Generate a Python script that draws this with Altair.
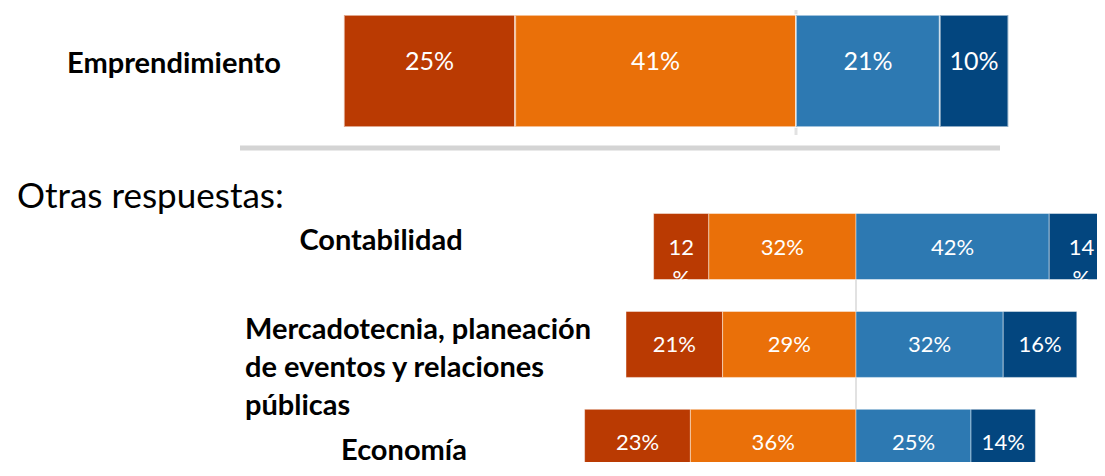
import altair as alt
import pandas as pd

FONT = "Lato"

categories = ["Totalmente en desacuerdo", "En desacuerdo", "De acuerdo", "Totalmente de acuerdo"]
palette = ["#BA3A02", "#EA7009", "#2D79B2", "#03467F"]

top_rows = ["Emprendimiento"]
top_values = [[25, 41, 21, 10]]
top_text = [["25%", "41%", "21%", "10%"]]

other_title = ["Otras respuestas:"]
other_rows = ["Contabilidad",
              "Mercadotecnia, planeación\nde eventos y relaciones\npúblicas",
              "Economía"]
other_values = [[12, 32, 42, 14], [21, 29, 32, 16], [23, 36, 25, 14]]
other_text = [["12\n%", "32%", "42%", "14\n%"],
              ["21%", "29%", "32%", "16%"],
              ["23%", "36%", "25%", "14%"]]


def build(rows, values, texts):
    recs = []
    for r, v, t in zip(rows, values, texts):
        spans = [(-(v[0] + v[1]), -v[1]), (-v[1], 0), (0, v[2]), (v[2], v[2] + v[3])]
        for c, (s, e), lab in zip(categories, spans, t):
            recs.append(dict(row=r, cat=c, start=s, end=e, mid=(s + e) / 2, label=lab))
    return pd.DataFrame(recs)


top_df = build(top_rows, top_values, top_text)
oth_df = build(other_rows, other_values, other_text)

W = 1089
HA = 144
HB = 306

color = alt.Color("cat:N", scale=alt.Scale(domain=categories, range=palette), legend=None)

# ---------- top panel ----------
xA = alt.Scale(domain=[-(796 - 8) / 6.85, (1097 - 796) / 6.85], nice=False, zero=False)
yA = alt.Scale(domain=top_rows, paddingInner=0, paddingOuter=0.1429, align=0.1875)

baseA = alt.Chart(top_df)
ruleA = baseA.mark_rule(color="#e2e2e2", strokeWidth=3).encode(
    x=alt.X("zero:Q", scale=xA, axis=None), y=alt.value(1), y2=alt.value(126)
).transform_calculate(zero="0").transform_filter("datum.cat == 'De acuerdo'")
barsA = baseA.mark_bar(stroke="white", strokeWidth=2, strokeOpacity=0.55).encode(
    x=alt.X("start:Q", scale=xA, axis=None), x2="end:Q",
    y=alt.Y("row:N", scale=yA, axis=None), color=color)
labA = baseA.mark_text(color="white", fontSize=25, font=FONT, baseline="alphabetic", dy=-1).encode(
    x=alt.X("mid:Q", scale=xA, axis=None), y=alt.Y("row:N", scale=yA, axis=None), text="label:N")
rowA = alt.Chart(pd.DataFrame({"row": top_rows})).mark_text(
    font=FONT, fontSize=29, fontWeight="bold", color="black", align="center",
    baseline="alphabetic", dy=2).encode(
    x=alt.value(166), y=alt.Y("row:N", scale=yA, axis=None), text="row:N")
sepA = alt.Chart(pd.DataFrame({"row": top_rows})).mark_rule(color="#d4d4d4", strokeWidth=5).encode(
    x=alt.value(232), x2=alt.value(992), y=alt.value(139))

top = alt.layer(ruleA, barsA, labA, rowA, sepA).properties(width=W, height=HA)

# ---------- bottom panel ----------
xB = alt.Scale(domain=[-(856 - 8) / 4.6, (1097 - 856) / 4.6], nice=False, zero=False)
yB = alt.Scale(domain=other_rows, paddingInner=0.598, paddingOuter=0.3618, align=1)

baseB = alt.Chart(oth_df)
ruleB = baseB.mark_rule(color="#e2e2e2", strokeWidth=2).encode(
    x=alt.X("zero:Q", scale=xB, axis=None), y=alt.value(58), y2=alt.value(HB)
).transform_calculate(zero="0").transform_filter("datum.cat == 'De acuerdo' && datum.row == 'Contabilidad'")
barsB = baseB.mark_bar(height=66, clip=True, stroke="white", strokeWidth=1, strokeOpacity=0.45).encode(
    x=alt.X("start:Q", scale=xB, axis=None), x2="end:Q",
    y=alt.Y("row:N", scale=yB, axis=None), color=color)
labB = baseB.mark_text(color="white", fontSize=22, font=FONT, baseline="alphabetic",
                       dy=8, lineBreak="\n", lineHeight=31).encode(
    x=alt.X("mid:Q", scale=xB, axis=None), y=alt.Y("row:N", scale=yB, axis=None), text="label:N")

row_layout = {
    other_rows[0]: dict(x=373, align="center", dy=3),
    other_rows[1]: dict(x=237, align="left", dy=-5),
    other_rows[2]: dict(x=396, align="center", dy=18),
}
row_layers = []
for r in other_rows:
    lay = row_layout[r]
    row_layers.append(
        alt.Chart(pd.DataFrame({"row": [r]})).mark_text(
            font=FONT, fontSize=29, fontWeight="bold", color="black", align=lay["align"],
            baseline="alphabetic", dy=lay["dy"], lineBreak="\n", lineHeight=38).encode(
            x=alt.value(lay["x"]), y=alt.Y("row:N", scale=yB, axis=None), text="row:N"))

titleB = alt.Chart(pd.DataFrame({"t": other_title})).mark_text(
    font=FONT, fontSize=35, color="black", align="left", baseline="alphabetic").encode(
    x=alt.value(9), y=alt.value(52), text="t:N")

bottom = alt.layer(ruleB, barsB, labB, *row_layers, titleB).properties(width=W, height=HB)

chart = alt.vconcat(top, bottom, spacing=3).properties(padding=0).configure_view(strokeWidth=0)

chart.save("out.html", embed_options={"renderer": "svg", "actions": False})
